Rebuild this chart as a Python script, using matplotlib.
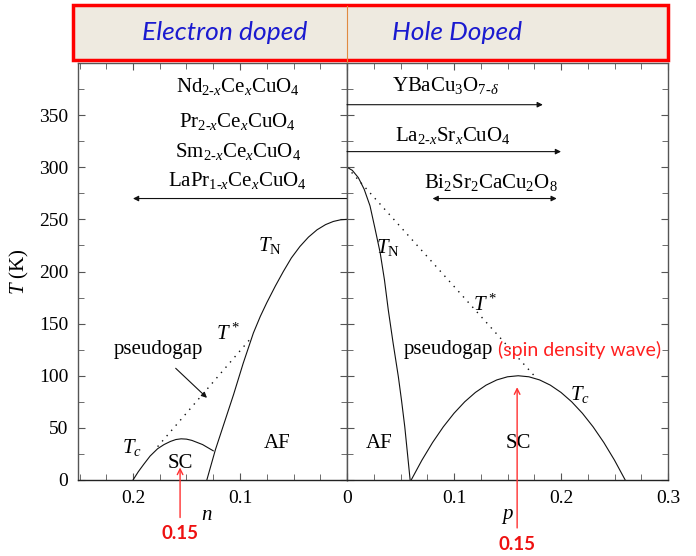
import matplotlib
matplotlib.use("Agg")
import matplotlib.pyplot as plt
from matplotlib.patches import Rectangle
from matplotlib.ticker import MultipleLocator, FixedLocator, FixedFormatter

plt.rcParams['font.family'] = ['Liberation Serif', 'DejaVu Serif']
plt.rcParams['mathtext.fontset'] = 'custom'
plt.rcParams['mathtext.rm'] = 'Liberation Serif'
plt.rcParams['mathtext.it'] = 'Liberation Serif:italic'
plt.rcParams['mathtext.bf'] = 'Liberation Serif:bold'

# electron doped side (n)
tn_e_n = [0.131, 0.123, 0.106, 0.097, 0.0875, 0.081, 0.075, 0.067, 0.0595, 0.052,
          0.044, 0.036, 0.028, 0.020, 0.0128, 0.006, 0.0]
tn_e_T = [0, 29, 82, 112, 141, 157, 170, 186, 200, 213,
          224, 233, 240, 245, 248, 249.6, 250]
tc_e_n = [0.2, 0.195, 0.19, 0.184, 0.177, 0.171, 0.165, 0.16, 0.155, 0.15, 0.145,
          0.14, 0.135, 0.13, 0.125]
tc_e_T = [0, 8, 15, 23, 30, 34, 37, 38.8, 39.5, 39.2, 38, 36, 34, 31, 28]
ts_e_n = [0.177, 0.089]
ts_e_T = [32, 137]

# hole doped side (p)
tn_h_p = [0.0, 0.005, 0.0106, 0.016, 0.0215, 0.026, 0.031, 0.035, 0.0386, 0.043,
          0.048, 0.051, 0.054, 0.059]
tn_h_T = [300, 297, 290, 279, 263, 242, 218, 192, 163, 132,
          99, 76, 51, 0]
tc_h_p = [0.06, 0.07, 0.08, 0.09, 0.10, 0.11, 0.12, 0.13, 0.14, 0.15, 0.16,
          0.17, 0.18, 0.19, 0.20, 0.21, 0.22, 0.23, 0.24, 0.25, 0.26]
tc_h_T = [0, 19, 36, 51, 64, 75, 84, 91, 96, 99, 100,
          99, 96, 91, 84, 75, 64, 51, 36, 19, 0]
ts_h_p = [0.0, 0.175]
ts_h_T = [300, 100]

e_compounds = [r'Nd$_{2\text{-}x}$Ce$_x$CuO$_4$', r'Pr$_{2\text{-}x}$Ce$_x$CuO$_4$',
               r'Sm$_{2\text{-}x}$Ce$_x$CuO$_4$', r'LaPr$_{1\text{-}x}$Ce$_x$CuO$_4$']
e_comp_T = [377, 344, 315, 287]

fig = plt.figure(figsize=(6.96, 5.56), dpi=100)
W, H = 696, 556
x0, xm, x1, yb, yt = 78, 347, 668, 480, 63
axL = fig.add_axes([x0 / W, 1 - yb / H, (xm - x0) / W, (yb - yt) / H])
axR = fig.add_axes([xm / W, 1 - yb / H, (x1 - xm) / W, (yb - yt) / H], sharey=axL)

spine_c = '#555555'
for ax in (axL, axR):
    ax.set_ylim(0, 400)
    for s in ax.spines.values():
        s.set_color(spine_c)
        s.set_linewidth(1.0)
    ax.spines['bottom'].set_color('#222222')
    ax.tick_params(which='both', direction='in', top=True, right=True,
                   color=spine_c, labelsize=14, pad=7)
    ax.tick_params(which='major', length=5)
    ax.tick_params(which='minor', length=4)
    ax.yaxis.set_major_locator(MultipleLocator(50))
    ax.yaxis.set_minor_locator(MultipleLocator(25))
    ax.xaxis.set_minor_locator(MultipleLocator(0.025))

axL.set_xlim((xm - x0) / 1070, 0)
axR.set_xlim(0, 0.3)
axL.xaxis.set_major_locator(FixedLocator([0.2, 0.1]))
axL.xaxis.set_major_formatter(FixedFormatter(['0.2', '0.1']))
axR.xaxis.set_major_locator(FixedLocator([0, 0.1, 0.2, 0.3]))
axR.xaxis.set_major_formatter(FixedFormatter(['0', '0.1', '0.2', '0.3']))
axL.set_yticks([0, 50, 100, 150, 200, 250, 300, 350])
axL.set_yticklabels(['0', '50', '100', '150', '200', '250', '300', '350'])
axR.tick_params(axis='y', labelleft=False)
axL.set_ylabel(r'$T$ (K)', fontsize=15, labelpad=6)

lc = '#111111'
fs = 15
# electron side
axL.plot(tn_e_n, tn_e_T, color=lc, lw=0.8)
axL.plot(tc_e_n, tc_e_T, color=lc, lw=0.8)
axL.plot(ts_e_n, ts_e_T, color=lc, lw=1.0, ls=(0, (1, 4)))
axL.text(0.201, 31, r'$T_c$', fontsize=fs, ha='center', va='center')
axL.text(0.156, 16, 'SC', fontsize=fs, ha='center', va='center')
axL.text(0.065, 35, 'AF', fontsize=fs, ha='center', va='center')
axL.text(0.111, 140, r'$T^*$', fontsize=fs, ha='center', va='center')
axL.text(0.072, 225, r'$T_\mathrm{N}$', fontsize=fs, ha='center', va='center')
axL.text(0.176, 125, 'pseudogap', fontsize=fs, ha='center', va='center')
axL.annotate('', xy=(0.129, 77), xytext=(0.162, 109),
             arrowprops=dict(arrowstyle='-|>', color=lc, lw=0.8, mutation_scale=8))
for lab, t in zip(e_compounds, e_comp_T):
    axL.text(0.102, t, lab, fontsize=fs, ha='center', va='center')
axL.annotate('', xy=(0.2, 270), xytext=(0.0, 270),
             arrowprops=dict(arrowstyle='-|>', color=lc, lw=0.8, mutation_scale=8,
                             shrinkA=0, shrinkB=0))
axL.text(0.131, -34, r'$n$', fontsize=fs, ha='center', va='center')
axL.annotate('', xy=(0.156, 12), xytext=(0.156, -36),
             arrowprops=dict(arrowstyle='->', color='#ff3030', lw=1.0, shrinkA=0, shrinkB=0),
             annotation_clip=False)
axL.text(0.156, -51, '0.15', fontsize=13.5, color='#ee1111', ha='center', va='center',
         family='Lato', weight='bold', clip_on=False)

# hole side
axR.plot(tn_h_p, tn_h_T, color=lc, lw=0.8)
axR.plot(tc_h_p, tc_h_T, color=lc, lw=0.8)
axR.plot(ts_h_p, ts_h_T, color=lc, lw=1.0, ls=(0, (1, 4)))
axR.text(0.038, 223, r'$T_\mathrm{N}$', fontsize=fs, ha='center', va='center')
axR.text(0.129, 168, r'$T^*$', fontsize=fs, ha='center', va='center')
axR.text(0.095, 125, 'pseudogap', fontsize=fs, ha='center', va='center')
axR.text(0.217, 125, '(spin density wave)', fontsize=14, color='#ff2020',
         family='Lato', ha='center', va='center')
axR.text(0.218, 82, r'$T_c$', fontsize=fs, ha='center', va='center')
axR.text(0.03, 35, 'AF', fontsize=fs, ha='center', va='center')
axR.text(0.16, 35, 'SC', fontsize=fs, ha='center', va='center')
axR.text(0.092, 378, r'YBaCu$_3$O$_{7\text{-}\delta}$', fontsize=fs, ha='center', va='center')
axR.annotate('', xy=(0.183, 360), xytext=(0.0, 360),
             arrowprops=dict(arrowstyle='-|>', color=lc, lw=0.8, mutation_scale=8,
                             shrinkA=0, shrinkB=0))
axR.text(0.099, 330, r'La$_{2\text{-}x}$Sr$_x$CuO$_4$', fontsize=fs, ha='center', va='center')
axR.annotate('', xy=(0.2, 315), xytext=(0.0, 315),
             arrowprops=dict(arrowstyle='-|>', color=lc, lw=0.8, mutation_scale=8,
                             shrinkA=0, shrinkB=0))
axR.text(0.134, 285, r'Bi$_2$Sr$_2$CaCu$_2$O$_8$', fontsize=fs, ha='center', va='center')
axR.annotate('', xy=(0.196, 270), xytext=(0.08, 270),
             arrowprops=dict(arrowstyle='<|-|>', color=lc, lw=0.8, mutation_scale=8,
                             shrinkA=0, shrinkB=0))
axR.text(0.150, -35, r'$p$', fontsize=fs, ha='center', va='center')
axR.annotate('', xy=(0.159, 89), xytext=(0.159, -46),
             arrowprops=dict(arrowstyle='->', color='#ff3030', lw=1.0, shrinkA=0, shrinkB=0),
             annotation_clip=False)
axR.text(0.159, -62, '0.15', fontsize=13.5, color='#ee1111', ha='center', va='center',
         family='Lato', weight='bold', clip_on=False)

# header box
fig.patches.append(Rectangle((73 / W, 1 - 60 / H), (668 - 73) / W, 55 / H,
                             transform=fig.transFigure, facecolor='#eeeae0',
                             edgecolor='#ff0000', lw=2.5, zorder=5))
fig.lines.append(plt.Line2D([xm / W, xm / W], [1 - 62 / H, 1 - 6 / H],
                            transform=fig.transFigure, color='#e08a40', lw=0.8, zorder=6))
fig.text(225 / W, 1 - 33 / H, 'Electron doped', family='Lato', style='italic',
         fontsize=19, color='#1a1ad0', ha='center', va='center', zorder=7)
fig.text(457 / W, 1 - 33 / H, 'Hole Doped', family='Lato', style='italic',
         fontsize=19, color='#1a1ad0', ha='center', va='center', zorder=7)

fig.savefig('out.png', dpi=100)
